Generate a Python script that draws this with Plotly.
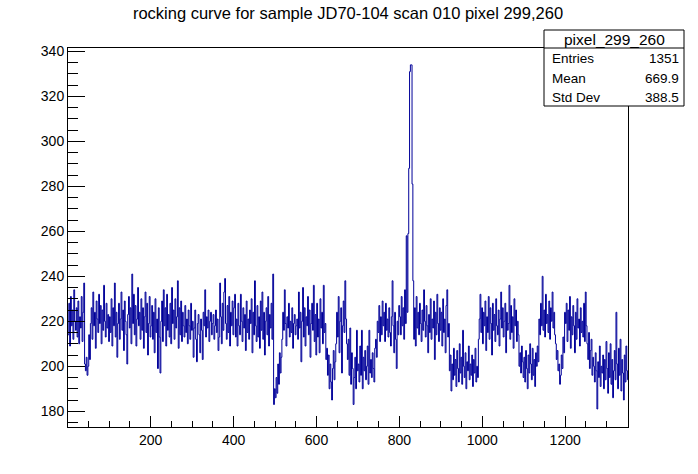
import numpy as np
import plotly.graph_objects as go

title = "rocking curve for sample JD70-104 scan 010 pixel 299,260"
stats_name = "pixel_299_260"
stats_labels = ["Entries", "Mean", "Std Dev"]
stats_values = ["1351", "669.9", "388.5"]

# counts, 2 frames per bin, starting at frame 0.5
bin_width = 2
first_edge = 0.5

counts_0000 = [214, 228, 209, 231, 218, 225, 212, 234, 220, 216, 226, 213, 229, 210, 222, 217, 231, 211, 224, 237,
               201, 198, 204, 196, 200, 214, 203, 219,
               226, 212, 233, 218, 224, 208, 229, 221, 215, 232, 219, 227, 210, 225, 216, 236, 220, 213, 228, 217, 223, 211]
counts_0100 = [222, 215, 230, 209, 226, 218, 237, 213, 224, 204, 219, 228, 212, 221, 233, 216, 225, 207, 229, 220,
               214, 201, 223, 231, 217, 226, 210, 241, 219, 232, 214, 227, 209, 221, 235, 218, 224, 212, 230, 216,
               226, 208, 222, 233, 215, 228, 205, 219, 231, 213]
counts_0200 = [218, 227, 212, 224, 206, 230, 215, 221, 199, 226, 213, 197, 220, 229, 211, 234, 218, 226, 209, 232,
               216, 223, 213, 228, 210, 235, 219, 225, 212, 230, 217, 222, 238, 208, 226, 214, 229, 211, 224, 218,
               213, 227, 215, 221, 210, 225, 218, 212, 228, 216]
counts_0300 = [220, 204, 217, 225, 212, 202, 219, 223, 214, 206, 221, 216, 203, 224, 218, 234, 213, 222, 217, 225,
               211, 220, 224, 214, 219, 223, 212, 218, 225, 215, 221, 207, 213, 237, 222, 210, 228, 216, 233, 239,
               219, 212, 227, 215, 231, 209, 224, 218, 229, 214]
counts_0400 = [226, 232, 213, 221, 209, 228, 218, 214, 232, 220, 211, 226, 217, 223, 207, 229, 215, 221, 212, 225,
               219, 230, 206, 224, 214, 238, 218, 211, 227, 213, 222, 208, 229, 216, 233, 212, 224, 205, 220, 226,
               214, 231, 209, 223, 217, 228, 212, 241, 183, 190]
counts_0500 = [186, 195, 188, 201, 192, 206, 197, 204, 212, 224, 216, 234, 219, 209, 222, 217, 228, 213, 220, 215,
               226, 208, 219, 223, 214, 218, 221, 212, 233, 217, 224, 202, 220, 235, 213, 226, 209, 222, 218, 231,
               214, 225, 204, 219, 228, 216, 236, 211, 223, 205]
counts_0600 = [228, 213, 221, 206, 230, 217, 224, 210, 236, 215, 219, 203, 208, 196, 205, 190, 201, 193, 185, 199,
               207, 194, 202, 210, 224, 213, 231, 206, 220, 226, 197, 218, 229, 215, 238, 221, 210, 203, 212, 196,
               217, 192, 206, 199, 183, 195, 204, 190, 216, 198]
counts_0700 = [201, 193, 209, 196, 216, 190, 204, 198, 207, 194, 200, 209, 192, 216, 197, 203, 195, 206, 199, 193,
               208, 212, 204, 220, 215, 227, 211, 222, 214, 229, 218, 224, 211, 228, 216, 221, 213, 226, 215, 209,
               222, 238, 218, 206, 224, 212, 199, 220, 214, 227]
counts_0800 = [222, 214, 231, 218, 226, 212, 234, 219, 258, 224, 259, 288, 331, 334, 334, 281, 238, 212, 226, 209,
               231, 217, 224, 214, 228, 219, 211, 225, 216, 234, 220, 213, 227, 218, 206, 223, 215, 230, 212, 221,
               217, 229, 203, 224, 214, 232, 219, 211, 226, 216]
counts_0900 = [224, 209, 230, 215, 221, 206, 227, 234, 213, 219, 198, 205, 189, 201, 194, 208, 196, 203, 191, 207,
               199, 193, 210, 197, 204, 192, 216, 200, 195, 206, 190, 202, 198, 209, 194, 201, 196, 205, 191, 203,
               197, 208, 193, 200, 195, 212, 221, 232, 215, 226]
counts_1000 = [210, 224, 218, 229, 207, 222, 215, 231, 212, 226, 219, 205, 228, 216, 223, 211, 230, 218, 214, 225,
               209, 221, 233, 217, 226, 213, 220, 228, 206, 224, 216, 219, 236, 212, 227, 215, 222, 208, 230, 218,
               225, 211, 220, 214, 200, 206, 197, 209, 202, 195]
counts_1100 = [204, 193, 207, 199, 190, 205, 197, 210, 201, 194, 208, 196, 203, 191, 206, 200, 209, 202, 221, 214,
               228, 218, 240, 216, 225, 213, 232, 219, 223, 215, 229, 212, 226, 220, 233, 217, 224, 214, 210, 203,
               207, 198, 201, 192, 196, 205, 199, 213, 206, 224]
counts_1200 = [219, 228, 211, 225, 216, 231, 208, 222, 214, 227, 218, 206, 224, 212, 230, 217, 221, 209, 226, 215,
               220, 213, 228, 211, 233, 218, 210, 203, 215, 199, 207, 212, 196, 204, 200, 193, 206, 198, 181, 202,
               195, 209, 191, 200, 197, 205, 190, 203, 194, 211]
counts_1300 = [199, 188, 206, 195, 210, 192, 203, 186, 198, 207, 194, 224, 201, 190, 208, 196, 212, 189, 203, 197,
               185, 205, 193, 209, 198, 194]

counts = (counts_0000 + counts_0100 + counts_0200 + counts_0300 + counts_0400 + counts_0500 + counts_0600
          + counts_0700 + counts_0800 + counts_0900 + counts_1000 + counts_1100 + counts_1200 + counts_1300)

edges = first_edge + bin_width * np.arange(len(counts) + 1)
steps = counts + [counts[-1]]

W, H = 698, 474
M_L, M_R, M_T, M_B = 68, 70, 48, 47


def px(x):
    return (x - M_L) / (W - M_L - M_R)


def py(y):
    return (H - M_B - y) / (H - M_T - M_B)


font = "Liberation Sans, Arial, sans-serif"

fig = go.Figure()
fig.add_trace(go.Scatter(x=edges, y=steps, mode='lines', line_shape='hv',
                         line=dict(color='#000099', width=1), hoverinfo='skip'))

fig.update_layout(
    width=W, height=H,
    margin=dict(l=M_L, r=M_R, t=M_T, b=M_B),
    paper_bgcolor='white', plot_bgcolor='white',
    showlegend=False,
    font=dict(family=font, color='black', size=14),
    title=dict(text=title, x=0.5, xanchor='center', xref='paper',
               y=1 - 13 / H, yanchor='middle', font=dict(size=16.5)),
    xaxis=dict(range=[0.5, 1351.5], showgrid=False, zeroline=False,
               showline=True, linecolor='black', linewidth=1, mirror=True,
               ticks='inside', ticklen=11, tickcolor='black', dtick=200, tick0=0,
               minor=dict(ticks='inside', ticklen=6, dtick=50, tickcolor='black', showgrid=False),
               tickfont=dict(size=14)),
    yaxis=dict(range=[173.0, 341.5], showgrid=False, zeroline=False,
               showline=True, linecolor='black', linewidth=1, mirror=True,
               ticks='inside', ticklen=17, tickcolor='black', dtick=20, tick0=0,
               minor=dict(ticks='inside', ticklen=10, dtick=5, tickcolor='black', showgrid=False),
               tickfont=dict(size=14)),
)

# stats box
bx0, bx1, by0, by1 = 544, 684, 30, 106
sep = 48
fig.add_shape(type='rect', xref='paper', yref='paper', layer='above',
              x0=px(bx0), x1=px(bx1), y0=py(by1), y1=py(by0),
              line=dict(color='black', width=1), fillcolor='white')
fig.add_shape(type='line', xref='paper', yref='paper', layer='above',
              x0=px(bx0), x1=px(bx1), y0=py(sep), y1=py(sep),
              line=dict(color='black', width=1))
fig.add_annotation(text=stats_name, xref='paper', yref='paper', showarrow=False,
                   x=px((bx0 + bx1) / 2), y=py((by0 + sep) / 2), xanchor='center', yanchor='middle',
                   font=dict(size=15.5))
row_h = (by1 - sep) / len(stats_labels)
for i, (lab, val) in enumerate(zip(stats_labels, stats_values)):
    yc = sep + row_h * (i + 0.5) + 1
    fig.add_annotation(text=lab, xref='paper', yref='paper', showarrow=False,
                       x=px(bx0 + 6), y=py(yc), xanchor='left', yanchor='middle', font=dict(size=13.5))
    fig.add_annotation(text=val, xref='paper', yref='paper', showarrow=False,
                       x=px(bx1 - 3), y=py(yc), xanchor='right', yanchor='middle', font=dict(size=13.5))

# the page has an 8px body margin by default; drop it so the figure sits at (0, 0)
fig.write_html("out.html", config={'displayModeBar': False},
               post_script="document.body.style.margin = '0';")
